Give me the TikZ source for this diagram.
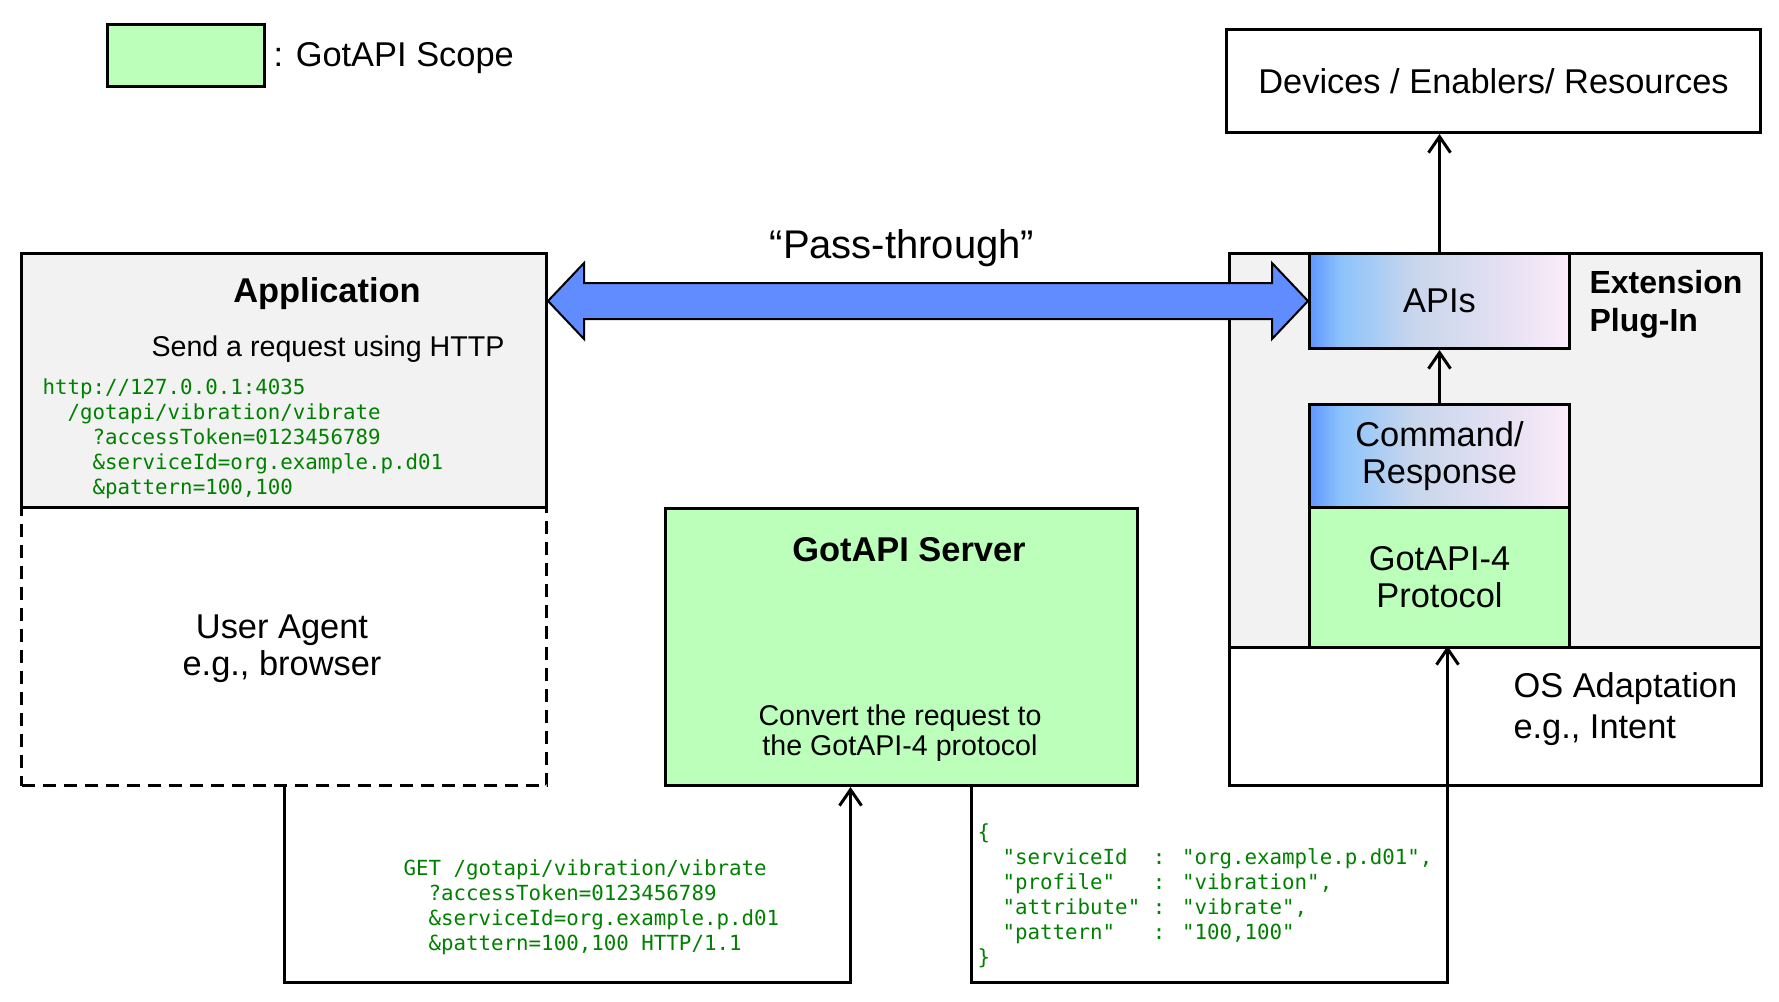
\documentclass[tikz,border=0pt]{standalone}
\usepackage{fontspec}
\setmainfont{Liberation Sans}
\newfontfamily\codefont{DejaVu Sans Mono}
\usetikzlibrary{arrows.meta,positioning,calc}

\definecolor{scopegreen}{RGB}{187,255,187}
\definecolor{boxgray}{RGB}{242,242,242}
\definecolor{passblue}{RGB}{96,140,255}
\definecolor{codegreen}{RGB}{0,128,0}
\definecolor{apiA}{RGB}{95,150,255}
\definecolor{apiB}{RGB}{140,195,252}
\definecolor{apiC}{RGB}{200,214,236}
\definecolor{apiD}{RGB}{228,224,242}
\definecolor{apiE}{RGB}{252,236,250}
\pgfdeclarehorizontalshading{apishading}{100bp}{color(0bp)=(apiA); color(25bp)=(apiA); color(31bp)=(apiB); color(45bp)=(apiC); color(62bp)=(apiD); color(75bp)=(apiE); color(100bp)=(apiE)}

\begin{document}
\begin{tikzpicture}[x=0.5pt, y=-0.5pt, >={Straight Barb[length=8pt,width=11pt]}, line width=1.5pt,
    box/.style={draw, inner sep=0pt, anchor=north west},
    scopebox/.style={box, fill=scopegreen},
    graybox/.style={box, fill=boxgray},
    apibox/.style={box, shading=apishading},
    txt/.style={font=\fontsize{17.2pt}{18.5pt}\selectfont, align=center, inner sep=0pt},
    heading/.style={font=\fontsize{17.2pt}{19pt}\bfseries, align=left, inner sep=0pt},
    note/.style={font=\fontsize{14.3pt}{15pt}\selectfont, align=center, inner sep=0pt},
    codetxt/.style={font=\codefont\fontsize{10.4pt}{12.5pt}\selectfont, text=codegreen, align=left, inner sep=0pt, anchor=west},
    passarrow/.style={draw, line width=1pt, fill=passblue, line join=miter}]

  \useasboundingbox (0,0) rectangle (1779,1002);

  % legend
  \node[scopebox, minimum width=78.5pt, minimum height=31pt] (legend) at (106,23) {};
  \node[txt, right=3pt of legend, yshift=-1.5pt] (legendtxt) {: GotAPI Scope};

  \node[box, txt, minimum width=267pt, minimum height=51.5pt] (dev) at (1225,28) {Devices / Enablers/ Resources};

  % application + user agent
  \node[box, dash pattern=on 6.5pt off 4pt, minimum width=262.5pt, minimum height=139pt] (ua) at (20,506) {};
  \node[txt] (uatxt) at (282,649) {User Agent\\e.g., browser};
  \node[graybox, minimum width=262.5pt, minimum height=127pt] (app) at (20,252) {};
  \node[heading] (apptitle) at (327,294) {Application};
  \node[note] (appnote) at (328,349) {Send a request using HTTP};
  \node[codetxt] (appcode) at (41,439) {http://127.0.0.1:4035\\\phantom{xx}/gotapi/vibration/vibrate\\\phantom{xxxx}?accessToken=0123456789\\\phantom{xxxx}\&serviceId=org.example.p.d01\\\phantom{xxxx}\&pattern=100,100};

  % server
  \node[scopebox, minimum width=236pt, minimum height=138.5pt] (server) at (664,507) {};
  \node[heading] (servertitle) at (909,550) {GotAPI Server};
  \node[note] (servernote) at (900,733) {Convert the request to\\the GotAPI-4 protocol};

  % plug-in
  \node[graybox, minimum width=266pt, minimum height=197pt] (plugin) at (1228,252) {};
  \node[box, minimum width=266pt, minimum height=69pt] (os) at (1228,646) {};
  \node[apibox, txt, minimum width=130pt, minimum height=47.5pt] (apis) at (1308,252) {APIs};
  \node[apibox, txt, minimum width=130pt, minimum height=51.5pt] (cmd) at (1308,403) {Command/\\Response};
  \node[scopebox, txt, minimum width=130pt, minimum height=70pt] (proto) at (1308,506) {GotAPI-4\\Protocol};
  \node[heading, font=\fontsize{16pt}{19pt}\bfseries, anchor=west] (plugintxt) at (1588,304) {Extension\\Plug-In};
  \node[txt, font=\fontsize{17.2pt}{20.5pt}\selectfont, align=left, anchor=west] (ostxt) at (1512,709) {OS Adaptation\\e.g., Intent};

  % pass-through
  \coordinate (pl) at (app.east |- apis.west);
  \coordinate (pr) at (apis.west);
  \draw[passarrow] (pl) -- ($(pl)+(36,-38)$) -- ($(pl)+(36,-18)$) -- ($(pr)+(-36,-18)$) -- ($(pr)+(-36,-38)$) -- (pr)
    -- ($(pr)+(-36,38)$) -- ($(pr)+(-36,18)$) -- ($(pl)+(36,18)$) -- ($(pl)+(36,38)$) -- cycle;
  \node[font=\fontsize{20pt}{21pt}\selectfont, inner sep=0pt] (passtxt) at (902,248) {“Pass-through”};

  \draw[->] (apis.north) -- (apis.north |- dev.south);
  \draw[->] (cmd.north) -- (apis.south);

  % requests
  \coordinate (getin) at ([xshift=-25.5pt]server.south);
  \coordinate (jsonout) at ([xshift=35pt]server.south);
  \coordinate (osin) at ([xshift=-24pt]os.north);
  \draw[->] (ua.south) -- ++(0,195) -| (getin);
  \draw[->] (jsonout) -- ++(0,195) -| (osin);

  \node[codetxt] (getcode) at (402,907) {GET /gotapi/vibration/vibrate\\\phantom{xx}?accessToken=0123456789\\\phantom{xx}\&serviceId=org.example.p.d01\\\phantom{xx}\&pattern=100,100 HTTP/1.1};
  \node[codetxt] (jsoncode) at (976,896) {\{\\\phantom{xx}"serviceId~~: "org.example.p.d01",\\\phantom{xx}"profile"~~~: "vibration",\\\phantom{xx}"attribute" : "vibrate",\\\phantom{xx}"pattern"~~~: "100,100"\\\}};
\end{tikzpicture}
\end{document}
